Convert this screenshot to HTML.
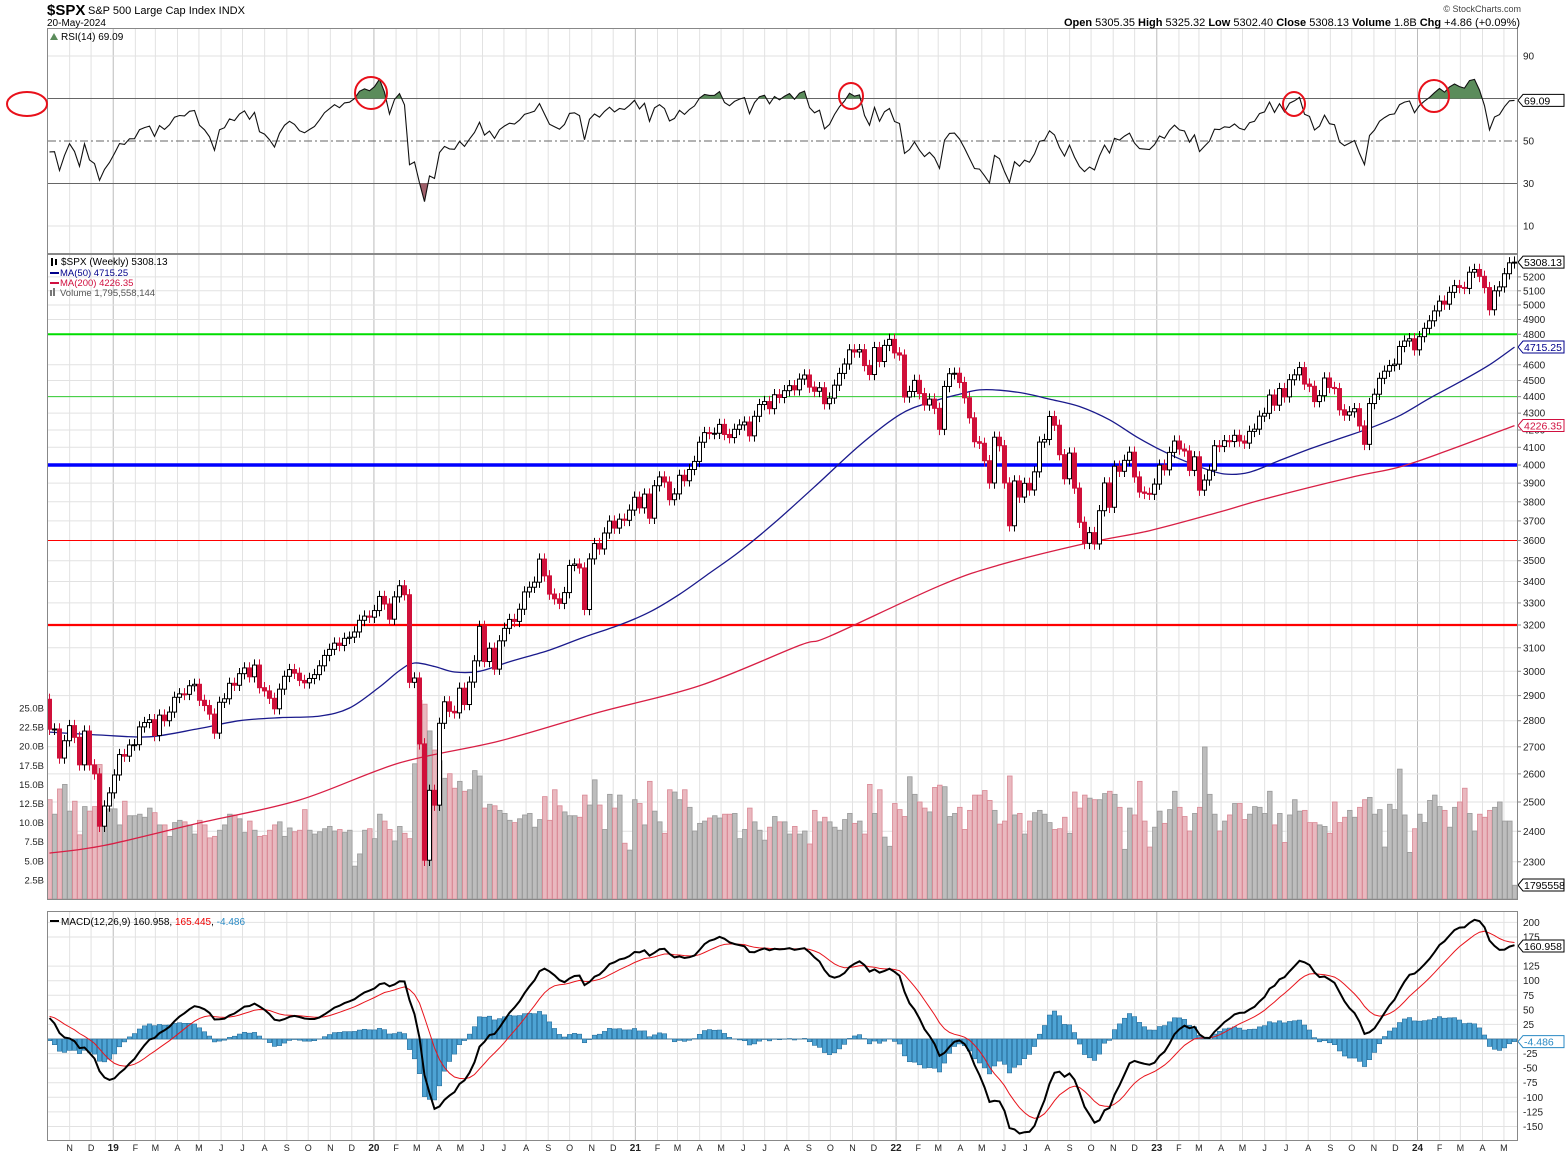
<!DOCTYPE html>
<html><head><meta charset="utf-8">
<style>
html,body{margin:0;padding:0;background:#fff;}
svg{display:block;font-family:"Liberation Sans",sans-serif;}
</style></head>
<body>
<svg id="chart" xmlns="http://www.w3.org/2000/svg" width="1565" height="1157" viewBox="0 0 1565 1157">
  <rect x="0" y="0" width="1565" height="1157" fill="#fff"/>
  <g id="grid"></g>
  <g id="vol"></g>
  <g id="hlines"></g>
  <g id="ma"></g>
  <g id="candles"></g>
  <g id="rsi"></g>
  <g id="macd"></g>
  <g id="axes"></g>
  <g id="frames" fill="none" stroke="#888" stroke-width="1">
    <rect x="47.5" y="28.5" width="1470" height="225"/>
    <rect x="47.5" y="254.5" width="1470" height="645"/>
    <rect x="47.5" y="911.5" width="1470" height="229"/>
  </g>
  <g>
    <text x="47" y="15" font-size="15" font-weight="bold" fill="#000">$SPX</text>
    <text x="88" y="14" font-size="11" fill="#000">S&amp;P 500 Large Cap Index  INDX</text>
    <text x="47" y="26" font-size="10" fill="#000">20-May-2024</text>
    <text x="1521" y="12" font-size="9" fill="#444" text-anchor="end">© StockCharts.com</text>
    <text x="1520" y="26" font-size="11" fill="#000" text-anchor="end"><tspan font-weight="bold">Open</tspan> 5305.35  <tspan font-weight="bold">High</tspan> 5325.32  <tspan font-weight="bold">Low</tspan> 5302.40  <tspan font-weight="bold">Close</tspan> 5308.13  <tspan font-weight="bold">Volume</tspan> 1.8B  <tspan font-weight="bold">Chg</tspan> +4.86 (+0.09%)</text>
  </g>
  <g font-size="10">
    <path d="M50 40 L54 33 L58 40 Z" fill="#5b8c5b"/>
    <text x="61" y="40" fill="#000">RSI(14) 69.09</text>
    <text x="61" y="265" fill="#000">$SPX (Weekly) 5308.13</text>
    <rect x="51" y="258" width="2" height="8" fill="#000"/><rect x="55" y="259" width="2" height="6" fill="#000"/>
    <line x1="50" y1="273" x2="59" y2="273" stroke="#00008b" stroke-width="2"/>
    <text x="60" y="276" fill="#00008b" font-size="9.5">MA(50) 4715.25</text>
    <line x1="50" y1="283" x2="59" y2="283" stroke="#d01040" stroke-width="2"/>
    <text x="60" y="286" fill="#d01040" font-size="9.5">MA(200) 4226.35</text>
    <rect x="50" y="290" width="2" height="6" fill="#777"/><rect x="53" y="288" width="2" height="8" fill="#777"/>
    <text x="60" y="296" fill="#555" font-size="9.5">Volume 1,795,558,144</text>
    <line x1="50" y1="921" x2="59" y2="921" stroke="#000" stroke-width="2"/>
    <text x="61" y="925" font-size="10"><tspan fill="#000">MACD(12,26,9) 160.958, </tspan><tspan fill="#e00">165.445</tspan><tspan fill="#000">, </tspan><tspan fill="#2a8ac4">-4.486</tspan></text>
  </g>
  <g id="annot" fill="none" stroke="#e8101a" stroke-width="2"></g>
</svg>
<script>
// ===== DATA =====
const priorCloses = [2743,2786,2810,2873,2762,2620,2732,2747,2691,2786,2752,2588,2641,2604,2656,2670,2670,2663,2728,2713,2721,2735,2779,2780,2755,2718,2760,2801,2802,2819,2840,2833,2850,2875,2902,2872,2905,2930,2914,2885];
const closes = [
2767,2768,2658,2723,2781,2736,2633,2760,2633,2600,2417,2486,
2532,2596,2671,2665,2707,2708,2776,2793,2804,2743,2822,2800,2834,2893,2907,2905,2940,2946,2881,2860,2826,2752,2873,2887,2950,2942,2990,3014,2977,3026,2932,2919,2889,2847,2926,2979,3007,2992,2962,2952,2970,2986,3023,3067,3093,3120,3110,3141,3146,3169,3221,3240,
3235,3265,3330,3295,3226,3328,3380,3338,2954,2972,2711,2305,2541,2489,2790,2875,2837,2831,2930,2864,2955,3044,3194,3041,3098,3009,3130,3185,3225,3216,3271,3351,3373,3397,3508,3427,3341,3319,3298,3348,3477,3484,3465,3270,3509,3585,3558,3638,3699,3663,3709,3703,3756,
3824,3768,3841,3714,3886,3934,3906,3811,3842,3943,3913,3975,4020,4129,4185,4180,4181,4233,4174,4156,4204,4230,4247,4166,4281,4352,4370,4327,4412,4395,4437,4468,4442,4509,4535,4459,4433,4455,4357,4391,4471,4545,4605,4697,4683,4698,4595,4538,4712,4621,4726,4766,
4677,4663,4398,4432,4501,4419,4349,4385,4329,4204,4463,4543,4546,4488,4393,4272,4132,4123,4024,3901,4158,4109,3901,3675,3912,3825,3899,3863,3962,4130,4145,4280,4228,4058,3924,4067,3873,3693,3586,3640,3583,3753,3901,3771,3993,3965,4026,4072,3934,3852,3845,3840,
3895,3999,3973,4071,4136,4090,4079,3970,4046,3862,3917,3971,4109,4105,4138,4133,4169,4136,4124,4192,4205,4282,4299,4410,4348,4450,4399,4505,4536,4582,4478,4464,4370,4406,4516,4457,4450,4320,4288,4308,4327,4224,4117,4358,4415,4514,4559,4595,4604,4719,4755,4770,
4697,4784,4840,4891,4959,5027,5006,5089,5137,5124,5117,5234,5254,5204,5123,4967,5100,5128,5223,5303,5308];
const firstOpen = 2885;
const volumesB = [
13.0,11.1,14.4,15.0,11.5,12.8,8.4,12.1,11.5,12.1,17.6,9.6,11.8,
11.8,9.7,12.8,10.9,10.9,11.1,10.7,11.9,11.3,9.7,9.7,8.2,10.0,
10.3,10.1,9.7,8.5,10.3,9.7,8.0,8.2,9.0,9.7,11.1,11.0,10.5,
8.7,10.2,9.0,8.2,8.3,9.0,9.7,10.1,8.2,9.3,8.8,9.0,11.7,
9.0,8.5,8.8,9.2,9.5,8.9,9.1,8.7,9.0,4.3,5.9,9.0,9.2,
7.9,11.1,10.2,9.1,7.6,9.5,8.6,7.9,17.7,
26.0,25.5,22.0,19.5,18.1,15.8,16.4,14.5,15.4,14.1,14.3,16.8,16.1,11.9,12.4,12.2,11.6,11.2,10.3,10.0,10.5,11.0,
11.2,9.4,10.4,13.4,10.3,14.3,12.2,11.4,10.9,10.9,10.7,13.6,12.3,15.6,12.3,9.1,13.7,11.9,13.6,7.3,
6.4,13.0,12.5,9.7,15.4,11.5,10.1,8.6,14.3,14.0,13.0,14.3,12.0,8.9,9.9,10.2,10.6,10.9,10.6,11.1,
11.1,11.2,7.9,9.1,11.9,10.1,9.0,7.7,9.4,10.8,10.1,10.1,8.5,9.5,8.5,8.9,7.2,11.6,10.1,10.7,
10.1,9.4,9.0,10.4,11.2,9.9,10.2,8.5,15.0,11.2,14.3,8.1,6.9,12.5,11.7,10.8,16.0,13.7,12.7,11.9,
11.4,14.6,14.9,14.7,10.8,11.2,12.0,9.1,11.6,13.6,13.6,14.2,12.9,11.6,9.8,10.2,16.1,11.0,11.2,8.5,10.2,
11.3,11.6,11.1,10.0,9.1,9.2,10.7,8.6,14.0,11.9,13.6,13.2,13.0,13.0,13.8,14.1,13.7,12.0,6.5,11.9,
11.0,15.4,10.2,6.8,9.4,11.5,9.9,11.7,14.1,12.0,10.8,8.9,11.2,12.0,19.9,13.7,11.1,8.9,10.2,11.0,
12.5,12.5,10.4,11.1,12.1,12.0,11.2,14.1,9.7,11.2,7.4,11.0,13.0,11.5,11.6,10.0,10.0,9.7,9.5,8.6,
12.7,10.0,10.7,11.6,10.7,12.0,13.0,13.3,11.1,11.7,6.8,12.4,11.7,17.0,11.0,6.1,9.2,11.1,10.0,12.9,
13.6,12.1,11.6,9.4,12.0,12.7,14.5,11.2,8.9,11.1,10.7,11.6,12.0,12.7,10.2,10.2,1.8];
const ma50Weeks = [0,10,20,30,38,46,54,60,66,70,73,77,81,86,92,100,107,114,120,126,132,138,145,153,162,170,176,182,186,190,195,200,206,212,218,224,230,235,240,246,252,258,264,270,276,282,288,293];
const ma50Vals  = [2756,2745,2738,2770,2800,2812,2818,2850,2935,3003,3035,3020,2997,3000,3040,3090,3147,3200,3258,3340,3440,3545,3690,3880,4110,4290,4365,4415,4442,4440,4420,4385,4340,4260,4150,4060,3990,3950,3960,4025,4090,4150,4210,4285,4390,4490,4600,4715];
const ma200Weeks = [0,11,30,50,70,90,110,130,150,156,178,190,208,220,234,243,260,270,280,293];
const ma200Vals  = [2328,2353,2428,2507,2640,2722,2834,2940,3110,3150,3380,3480,3590,3650,3746,3815,3930,3989,4085,4226];
const hLevels = [4800,4400,4000,3600,3200];
const priceTicks = [2300,2400,2500,2600,2700,2800,2900,3000,3100,3200,3300,3400,3500,3600,3700,3800,3900,4000,4100,4200,4300,4400,4500,4600,4800,4900,5000,5100,5200];
const volTicks = [2.5,5.0,7.5,10.0,12.5,15.0,17.5,20.0,22.5,25.0];
const rsiTicks = [90,50,30,10];
const macdTicks = [200,175,125,100,75,50,25,-25,-50,-75,-100,-125,-150];
const monthLetters = ["J","F","M","A","M","J","J","A","S","O","N","D"];

// ===== SCALES =====
const NS="http://www.w3.org/2000/svg";
function xi(i){return 49.5+5*i;}
function yp(p){return 465-717*Math.log(p/4000);}
function yv(v){return 899-v*7.64;}
function yr(r){return 141-(r-50)*2.125;}
function ym(m){return 1039-m*0.583;}
const baseDate = Date.UTC(2018,9,8);
function xd(t){return 52.5+(t-baseDate)/86400000/7*5;}
function mk(tag,attrs,parent){const e=document.createElementNS(NS,tag);for(const k in attrs)e.setAttribute(k,attrs[k]);parent.appendChild(e);return e;}
const G=id=>document.getElementById(id);
const N=closes.length;
const opens=closes.map((c,i)=>i===0?firstOpen:closes[i-1]);

// ===== GRID =====
const grid=G('grid'), axes=G('axes');
for(let y=2018,m=10;y<2024||(y===2024&&m<=4);){
  const t=Date.UTC(y,m,1), x=xd(t);
  const yr0 = m===0;
  [[29,253],[255,899],[912,1140]].forEach(([a,b])=>{
    const l=mk('line',{x1:x,y1:a,x2:x,y2:b,stroke:yr0?'#bbb':'#e2e2e2','stroke-width':1},grid);
    
    
  });
  const lab = yr0 ? String(y%100).padStart(2,'0') : monthLetters[m];
  const tx=mk('text',{x:x,y:1151,'font-size':yr0?10:9,'font-weight':yr0?'bold':'normal','text-anchor':'middle',fill:'#222'},axes);
  tx.textContent=lab;
  
  
  m++; if(m>11){m=0;y++;}
}
priceTicks.forEach(p=>{
  const y=yp(p);
  const l=mk('line',{x1:48,y1:y,x2:1517,y2:y,stroke:'#e2e2e2'},grid);
  
  
  mk('line',{x1:1517,y1:y,x2:1521,y2:y,stroke:'#888'},axes);
  const t=mk('text',{x:1523,y:y+3.5,'font-size':10,fill:'#222'},axes);
  t.textContent=p;
  
  
});
volTicks.forEach(v=>{
  const y=yv(v);
  const t=mk('text',{x:44,y:y+3.5,'font-size':9.5,fill:'#222','text-anchor':'end'},axes);
  t.textContent=v.toFixed(1)+'B';
  
  
});
[90,10].forEach(r=>{
  const l=mk('line',{x1:48,y1:yr(r),x2:1517,y2:yr(r),stroke:'#e2e2e2'},grid);
  
  
});
rsiTicks.forEach(r=>{
  const t=mk('text',{x:1523,y:yr(r)+3.5,'font-size':10,fill:'#222'},axes);
  t.textContent=r;
  
  
});
macdTicks.forEach(m=>{
  const y=ym(m);
  const l=mk('line',{x1:48,y1:y,x2:1517,y2:y,stroke:'#e2e2e2'},grid);
  
  
  const t=mk('text',{x:1523,y:y+3.5,'font-size':10,fill:'#222'},axes);
  t.textContent=m;
  
  
});

// ===== VOLUME =====
const vol=G('vol');
volumesB.forEach((v,i)=>{
  if(i>=N) return;
  const down = closes[i] < opens[i];
  const y=yv(v);
  const r=mk('rect',{x:xi(i)-2,y:y,width:4.6,height:899-y,fill:down?'#e9b8bf':'#bdbdbd',stroke:down?'#d98894':'#9a9a9a','stroke-width':0.8},vol);
  
  
});

// ===== HORIZONTAL LEVELS =====
const hl=G('hlines');
const hStyles={4800:['#00dd00',2],4400:['#33cc33',1],4000:['#0000ff',3.5],3600:['#ff0000',1],3200:['#ff0000',2.2]};
hLevels.forEach(p=>{
  const y=yp(p);
  const l=mk('line',{x1:48,y1:y,x2:1517,y2:y,stroke:hStyles[p][0],'stroke-width':hStyles[p][1]},hl);
  
  
});

// ===== MOVING AVERAGES (smooth curve through samples) =====
const ma=G('ma');
function maPath(weeks,vals,color,name){
  const P=weeks.map((w,k)=>[xi(w),yp(vals[k])]);
  let d='M'+P[0][0].toFixed(1)+' '+P[0][1].toFixed(1);
  for(let k=0;k<P.length-1;k++){
    const p0=P[Math.max(0,k-1)],p1=P[k],p2=P[k+1],p3=P[Math.min(P.length-1,k+2)];
    const c1=[p1[0]+(p2[0]-p0[0])/6,p1[1]+(p2[1]-p0[1])/6];
    const c2=[p2[0]-(p3[0]-p1[0])/6,p2[1]-(p3[1]-p1[1])/6];
    d+=` C${c1[0].toFixed(1)} ${c1[1].toFixed(1)} ${c2[0].toFixed(1)} ${c2[1].toFixed(1)} ${p2[0].toFixed(1)} ${p2[1].toFixed(1)}`;
  }
  const p=mk('path',{d:d,fill:'none',stroke:color,'stroke-width':1.3},ma);
  
  
}
maPath(ma50Weeks,ma50Vals,'#1a1a8c','ma50-line');
maPath(ma200Weeks,ma200Vals,'#d81f45','ma200-line');

// ===== CANDLES =====
const cg=G('candles');
closes.forEach((c,i)=>{
  const o=opens[i], up=c>=o, x=xi(i);
  const top=yp(Math.max(o,c)), bot=yp(Math.min(o,c));
  const hi=yp(Math.max(o,c)*1.008), lo=yp(Math.min(o,c)*0.992);
  const col=up?'#000':'#d0103a';
  const w=mk('line',{x1:x,y1:hi,x2:x,y2:lo,stroke:col,'stroke-width':1},cg);
  
  
  const b=mk('rect',{x:x-2,y:top,width:4,height:Math.max(1,bot-top),fill:up?'#fff':'#d0103a',stroke:col,'stroke-width':1},cg);
  
  
});

// ===== RSI =====
const all=priorCloses.concat(closes);
const rsiAll=[];let ag=0,al=0;
for(let i=1;i<all.length;i++){
  const ch=all[i]-all[i-1], g=Math.max(ch,0), l=Math.max(-ch,0);
  if(i<=14){ag+=g/14;al+=l/14;} else {ag=(ag*13+g)/14;al=(al*13+l)/14;}
  rsiAll[i]=al===0?100:100-100/(1+ag/al);
}
const rsi=rsiAll.slice(priorCloses.length);
const rg=G('rsi');
const y70=yr(70), y30=yr(30);
[[70,'solid'],[50,'dash'],[30,'solid']].forEach(([r,s])=>{
  const l=mk('line',{x1:48,y1:yr(r),x2:1517,y2:yr(r),stroke:'#666','stroke-width':1},rg);
  if(s==='dash') l.setAttribute('stroke-dasharray','8,3,2,3');
  
  
});
const defs=mk('defs',{},rg);
const c1=mk('clipPath',{id:'above70'},defs); mk('rect',{x:0,y:0,width:1565,height:y70},c1);
const c2=mk('clipPath',{id:'below30'},defs); mk('rect',{x:0,y:y30,width:1565,height:200},c2);
const pts=rsi.map((r,i)=>xi(i).toFixed(1)+','+yr(r).toFixed(1));
const fa=mk('polygon',{points:xi(0)+','+y70+' '+pts.join(' ')+' '+xi(N-1)+','+y70,fill:'#5b8c5b','clip-path':'url(#above70)'},rg);


const fb=mk('polygon',{points:xi(0)+','+y30+' '+pts.join(' ')+' '+xi(N-1)+','+y30,fill:'#a0606b','clip-path':'url(#below30)'},rg);


const rl=mk('polyline',{points:pts.join(' '),fill:'none',stroke:'#111','stroke-width':1.1},rg);



// ===== MACD =====
function ema(arr,n){const k=2/(n+1);const out=[];arr.forEach((v,i)=>out.push(i?v*k+out[i-1]*(1-k):v));return out;}
const e12=ema(all,12), e26=ema(all,26);
const macdAll=e12.map((v,i)=>v-e26[i]);
const sigAll=ema(macdAll,9);
const macd=macdAll.slice(priorCloses.length), sig=sigAll.slice(priorCloses.length);
const mg=G('macd');
const z=mk('line',{x1:48,y1:ym(0),x2:1517,y2:ym(0),stroke:'#999'},mg);


macd.forEach((m,i)=>{
  const h=m-sig[i], y=ym(h), y0=ym(0);
  const r=mk('rect',{x:xi(i)-2.2,y:Math.min(y,y0),width:4.4,height:Math.abs(y-y0),fill:'#4da3d4',stroke:'#2a6f9b','stroke-width':0.6},mg);
  
  
});
const sl=mk('polyline',{points:sig.map((v,i)=>xi(i).toFixed(1)+','+ym(v).toFixed(1)).join(' '),fill:'none',stroke:'#e8141c','stroke-width':1},mg);


const ml=mk('polyline',{points:macd.map((v,i)=>xi(i).toFixed(1)+','+ym(v).toFixed(1)).join(' '),fill:'none',stroke:'#000','stroke-width':2},mg);



// ===== VALUE TAGS =====
function tag(y,txt,color,name){
  const g=mk('g',{},axes);
  
  
  mk('path',{d:`M1518 ${y} L1523 ${y-6} L1564 ${y-6} L1564 ${y+6} L1523 ${y+6} Z`,fill:'#fff',stroke:color,'stroke-width':1},g);
  const t=mk('text',{x:1524,y:y+4,'font-size':10.5,fill:color},g);
  t.textContent=txt;
}
tag(yp(5308.13),'5308.13','#000','price-value-tag');
tag(yp(4715.25),'4715.25','#00008b','ma50-value-tag');
tag(yp(4226.35),'4226.35','#d01040','ma200-value-tag');
tag(yr(69.09),'69.09','#000','rsi-value-tag');
tag(885,'1795558','#000','volume-value-tag');
tag(946,'160.958','#000','macd-value-tag');
tag(ym(-4.486),'-4.486','#2a8ac4','histogram-value-tag');

// ===== ANNOTATIONS =====
const an=G('annot');
[[27,104,20,12],[371,93,16,16],[851,96,12,13],[1294,104,11,12],[1434,96,15,16]].forEach(e=>{
  const el=mk('ellipse',{cx:e[0],cy:e[1],rx:e[2],ry:e[3]},an);
  
  
});
</script>
</body></html>
